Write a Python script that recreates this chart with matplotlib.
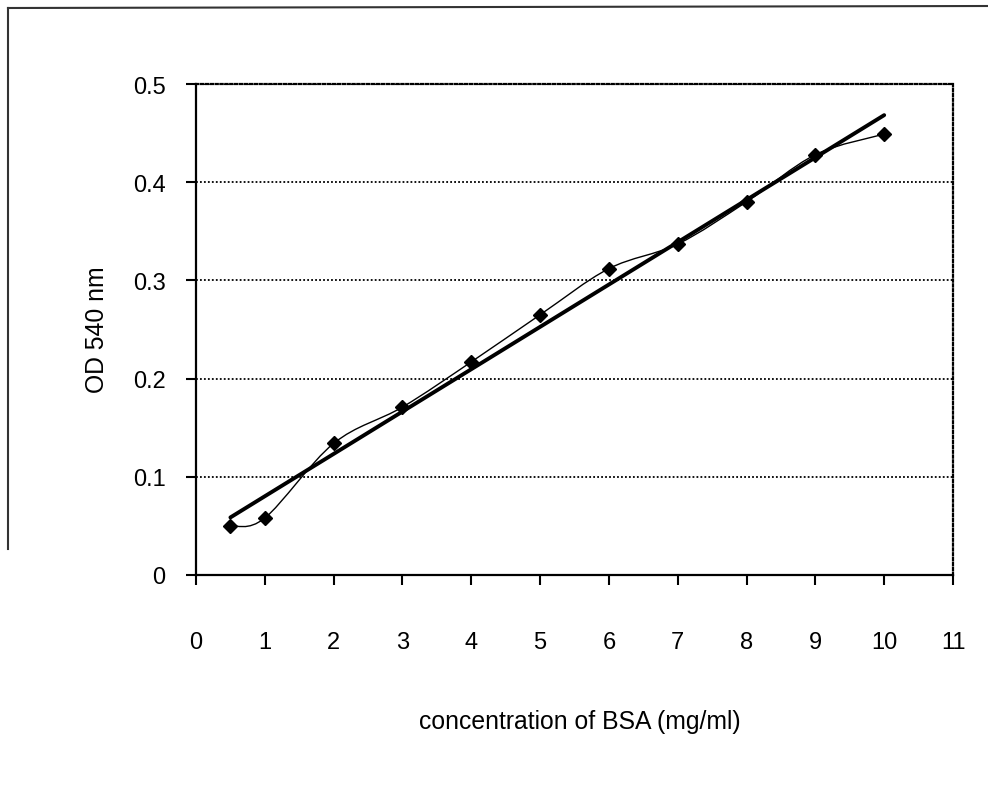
import numpy as np
import matplotlib
matplotlib.use("Agg")
import matplotlib.pyplot as plt
from matplotlib.path import Path
from matplotlib.patches import PathPatch
from matplotlib.lines import Line2D

plt.rcParams['font.family'] = ['Liberation Sans', 'DejaVu Sans']

# BSA standard curve
conc = [0.5, 1, 2, 3, 4, 5, 6, 7, 8, 9, 10]
od540 = [0.050, 0.058, 0.134, 0.171, 0.217, 0.265, 0.312, 0.337, 0.380, 0.428, 0.449]
x_ticks = list(range(0, 12))
y_ticks = [0, 0.1, 0.2, 0.3, 0.4, 0.5]
y_ticklabels = ['0', '0.1', '0.2', '0.3', '0.4', '0.5']

fig = plt.figure(figsize=(9.88, 8.03), dpi=100)
ax = fig.add_axes([196 / 988, 227 / 803, 757 / 988, 491 / 803])

# smoothed line through the points (Catmull-Rom as cubic bezier, like Excel)
xs = np.array(conc, dtype=float)
ys = np.array(od540, dtype=float)
verts = [(xs[0], ys[0])]
codes = [Path.MOVETO]
n = len(xs)
for i in range(n - 1):
    x0, y0 = (xs[i - 1], ys[i - 1]) if i > 0 else (xs[i], ys[i])
    x3, y3 = (xs[i + 2], ys[i + 2]) if i + 2 < n else (xs[i + 1], ys[i + 1])
    c1 = (xs[i] + (xs[i + 1] - x0) / 6, ys[i] + (ys[i + 1] - y0) / 6)
    c2 = (xs[i + 1] - (x3 - xs[i]) / 6, ys[i + 1] - (y3 - ys[i]) / 6)
    verts += [c1, c2, (xs[i + 1], ys[i + 1])]
    codes += [Path.CURVE4] * 3
ax.add_patch(PathPatch(Path(verts, codes), facecolor='none', edgecolor='black', lw=1.0, zorder=3))
ax.plot(conc, od540, linestyle='none', marker='D', markersize=7.5, color='black', zorder=4)

# linear trend line
k, b = np.polyfit(xs, ys, 1)
ax.plot([xs[0], xs[-1]], [k * xs[0] + b, k * xs[-1] + b], color='black', lw=2.8,
        solid_capstyle='round', zorder=3)

ax.set_xlim(0, 11)
ax.set_ylim(0, 0.5)
ax.set_xticks(x_ticks)
ax.set_yticks(y_ticks)
ax.set_yticklabels(y_ticklabels)

ax.yaxis.grid(True, linestyle=(0, (1, 1.2)), color='black', lw=1.3)
ax.set_axisbelow(True)

for side in ['top', 'right']:
    ax.spines[side].set_linestyle((0, (1, 1.2)))
    ax.spines[side].set_linewidth(1.6)
for side in ['left', 'bottom']:
    ax.spines[side].set_linewidth(1.6)

ax.tick_params(axis='x', direction='out', length=7, width=1.5, pad=33, labelsize=17)
ax.tick_params(axis='y', direction='out', length=7, width=1.5, pad=15, labelsize=17)

ax.set_xlabel('concentration of BSA (mg/ml)', fontsize=17.8)
ax.xaxis.set_label_coords(0.507, -0.297)
ax.xaxis.label.set_va('center')
ax.set_ylabel('OD 540 nm', fontsize=17.8)
ax.yaxis.set_label_coords(-0.131, 0.501)
ax.yaxis.label.set_va('center')

# scanned page frame
fig.add_artist(Line2D([8 / 988, 1], [1 - 9 / 803, 1 - 7 / 803], color='#333333', lw=1.5,
                      transform=fig.transFigure))
fig.add_artist(Line2D([8 / 988, 8 / 988], [1 - 9 / 803, 1 - 550 / 803], color='#333333', lw=1.5,
                      transform=fig.transFigure))

fig.savefig('out.png', dpi=100, facecolor='white')
